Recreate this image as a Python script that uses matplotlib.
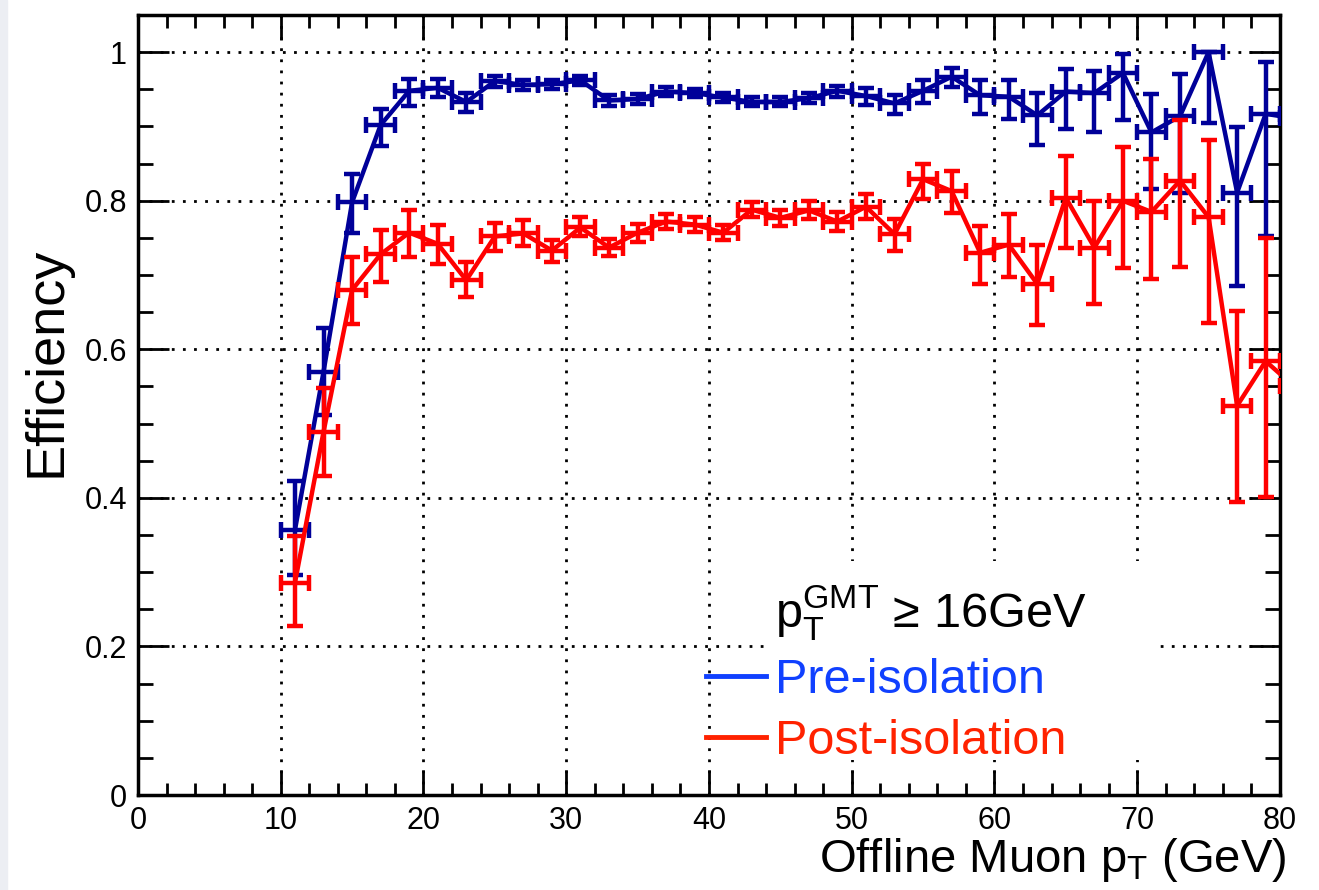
import matplotlib
matplotlib.use('Agg')
import matplotlib.pyplot as plt
from matplotlib.lines import Line2D
from matplotlib.patches import Rectangle
from matplotlib.ticker import MultipleLocator, FixedLocator, FixedFormatter

plt.rcParams['font.family'] = ['Liberation Sans', 'DejaVu Sans']
plt.rcParams['mathtext.fontset'] = 'custom'
plt.rcParams['mathtext.rm'] = 'Liberation Sans'
plt.rcParams['mathtext.it'] = 'Liberation Sans'
plt.rcParams['mathtext.bf'] = 'Liberation Sans:bold'

# bin centres (GeV), last one lies just outside the frame
pt = [11, 13, 15, 17, 19, 21, 23, 25, 27, 29, 31, 33, 35, 37, 39, 41, 43, 45,
      47, 49, 51, 53, 55, 57, 59, 61, 63, 65, 67, 69, 71, 73, 75, 77, 79, 81]
pt_halfwidth = [1.0] * len(pt)

# pre-isolation efficiency
eff_pre = [0.357, 0.570, 0.798, 0.902, 0.948, 0.952, 0.933, 0.961, 0.956, 0.957,
           0.962, 0.935, 0.937, 0.947, 0.945, 0.939, 0.933, 0.933, 0.938, 0.948,
           0.941, 0.931, 0.948, 0.967, 0.942, 0.940, 0.915, 0.947, 0.945, 0.972,
           0.892, 0.914, 1.000, 0.811, 0.917, 0.911]
pre_lo = [0.061, 0.059, 0.041, 0.028, 0.021, 0.013, 0.014, 0.008, 0.007, 0.006,
          0.006, 0.007, 0.007, 0.006, 0.006, 0.006, 0.006, 0.006, 0.007, 0.008,
          0.012, 0.014, 0.016, 0.014, 0.025, 0.030, 0.040, 0.050, 0.053, 0.063,
          0.076, 0.103, 0.096, 0.126, 0.164, 0.100]
pre_hi = [0.066, 0.059, 0.038, 0.021, 0.016, 0.012, 0.012, 0.007, 0.007, 0.006,
          0.006, 0.007, 0.007, 0.006, 0.006, 0.006, 0.006, 0.006, 0.007, 0.007,
          0.011, 0.012, 0.014, 0.012, 0.020, 0.022, 0.030, 0.030, 0.030, 0.025,
          0.052, 0.057, 0.000, 0.088, 0.070, 0.050]

# post-isolation efficiency
eff_post = [0.286, 0.489, 0.680, 0.728, 0.757, 0.742, 0.693, 0.752, 0.756, 0.733,
            0.764, 0.737, 0.757, 0.772, 0.768, 0.757, 0.788, 0.777, 0.787, 0.772,
            0.792, 0.755, 0.829, 0.813, 0.730, 0.741, 0.688, 0.804, 0.737, 0.800,
            0.785, 0.827, 0.778, 0.524, 0.584, 0.550]
post_lo = [0.058, 0.060, 0.046, 0.037, 0.033, 0.027, 0.023, 0.019, 0.017, 0.016,
           0.012, 0.012, 0.012, 0.010, 0.010, 0.010, 0.010, 0.011, 0.012, 0.013,
           0.017, 0.023, 0.027, 0.029, 0.042, 0.043, 0.055, 0.068, 0.076, 0.091,
           0.090, 0.116, 0.142, 0.130, 0.183, 0.150]
post_hi = [0.063, 0.059, 0.044, 0.033, 0.030, 0.026, 0.024, 0.018, 0.018, 0.014,
           0.014, 0.012, 0.012, 0.010, 0.010, 0.010, 0.010, 0.011, 0.012, 0.013,
           0.017, 0.021, 0.021, 0.027, 0.036, 0.041, 0.052, 0.056, 0.063, 0.072,
           0.071, 0.082, 0.104, 0.128, 0.166, 0.150]

y_ticks = [0, 0.2, 0.4, 0.6, 0.8, 1.0]
y_ticklabels = ['0', '0.2', '0.4', '0.6', '0.8', '1']

fig = plt.figure(figsize=(13.19, 8.9), dpi=100)
fig.patches.append(Rectangle((0, 0), 7 / 1319, 1, transform=fig.transFigure,
                             color='#eceef3', zorder=0))
ax = fig.add_axes([0.1046, 0.1067, 0.8658, 0.8764])

ax.errorbar(pt, eff_pre, yerr=[pre_lo, pre_hi], xerr=pt_halfwidth,
            color='#000099', lw=3.2, capsize=6, capthick=3.2, zorder=3)
ax.errorbar(pt, eff_post, yerr=[post_lo, post_hi], xerr=pt_halfwidth,
            color='#ff0000', lw=3.2, capsize=6, capthick=3.2, zorder=4)

ax.set_xlim(0, 80)
ax.set_ylim(0, 1.05)
ax.xaxis.set_major_locator(MultipleLocator(10))
ax.xaxis.set_minor_locator(MultipleLocator(2))
ax.yaxis.set_major_locator(FixedLocator(y_ticks))
ax.yaxis.set_major_formatter(FixedFormatter(y_ticklabels))
ax.yaxis.set_minor_locator(MultipleLocator(0.05))
ax.tick_params(which='both', direction='in', top=True, right=True, width=2,
               labelsize=22)
ax.tick_params(axis='y', which='major', length=22, pad=8)
ax.tick_params(axis='y', which='minor', length=11)
ax.tick_params(axis='x', which='major', length=18, pad=8)
ax.tick_params(axis='x', which='minor', length=9)
for s in ax.spines.values():
    s.set_linewidth(2.5)

ax.grid(True, which='major', color='black', linestyle=(0, (1, 3)), linewidth=2)

# white legend pad hiding the grid
ax.add_patch(Rectangle((0.55, 0.045), 0.34, 0.255, transform=ax.transAxes,
                       facecolor='white', edgecolor='none', zorder=2))

handles = [Line2D([], [], linestyle='none'),
           Line2D([], [], color='#1040ff', lw=3.5),
           Line2D([], [], color='#ff2200', lw=3.5)]
labels = [r'$\mathregular{p_T^{GMT}}$ ≥ 16GeV', 'Pre-isolation', 'Post-isolation']
ax.legend(handles, labels, loc='upper left', bbox_to_anchor=(0.497, 0.272),
          frameon=False, fontsize=35, handlelength=1.25, handletextpad=0.17,
          borderpad=0, borderaxespad=0, labelspacing=0.33,
          labelcolor=['black', '#1040ff', '#ff2200'])

fig.text(46 / 1319, 1 - 362 / 890, 'Efficiency', rotation=90, ha='center',
         va='center', fontsize=39)
fig.text(1286 / 1319, 1 - 860 / 890, r'Offline Muon $\mathregular{p_T}$ (GeV)',
         ha='right', va='center', fontsize=34)

fig.savefig('out.png', dpi=100)
